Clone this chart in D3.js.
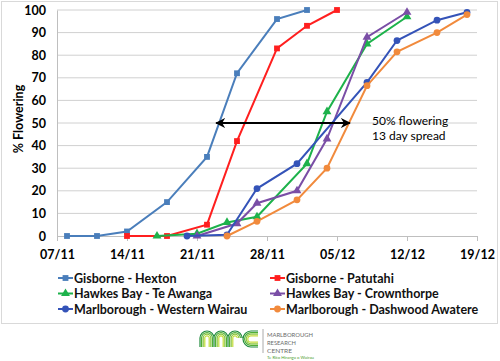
<!DOCTYPE html>
<html>
<head>
<meta charset="utf-8">
<script src="https://cdn.jsdelivr.net/npm/d3@7"></script>
<style>
  body { margin: 0; background: #fff; }
  svg { display: block; font-family: Lato, "Open Sans", sans-serif; }
</style>
</head>
<body>
<script>
// ---- data (dates are dd/mm) ----
var seriesNames = ["Gisborne - Hexton", "Gisborne - Patutahi", "Hawkes Bay - Te Awanga",
                   "Hawkes Bay - Crownthorpe", "Marlborough - Western Wairau", "Marlborough - Dashwood Awatere"];

var hextonDates  = ["08/11", "11/11", "14/11", "18/11", "22/11", "25/11", "29/11", "02/12"];
var hextonValues = [0, 0, 2, 15, 35, 72, 96, 100];

var patutahiDates  = ["14/11", "18/11", "22/11", "25/11", "29/11", "02/12", "05/12"];
var patutahiValues = [0, 0, 5, 42, 83, 93, 100];

var teAwangaDates  = ["17/11", "21/11", "24/11", "27/11", "02/12", "04/12", "08/12", "12/12"];
var teAwangaValues = [0, 1, 6, 8.5, 32, 55, 85, 97];

var crownthorpeDates  = ["21/11", "25/11", "27/11", "01/12", "04/12", "08/12", "12/12"];
var crownthorpeValues = [0, 5.5, 14.5, 20, 43, 88, 99];

var wairauDates  = ["20/11", "24/11", "27/11", "01/12", "08/12", "11/12", "15/12", "18/12"];
var wairauValues = [0, 0.5, 21, 32, 68, 86.5, 95.5, 99];

var awatereDates  = ["24/11", "27/11", "01/12", "04/12", "08/12", "11/12", "15/12", "18/12"];
var awatereValues = [0, 6.5, 16, 30, 66.5, 81.5, 90, 98];

var xTickDates = ["07/11", "14/11", "21/11", "28/11", "05/12", "12/12", "19/12"];
var yTicks = [0, 10, 20, 30, 40, 50, 60, 70, 80, 90, 100];

// 50% flowering spread arrow
var arrowFrom = "22/11 22:00", arrowTo = "06/12 07:00", arrowLevel = 50;
var noteLines = ["50% flowering", "13 day spread"];

// ---- setup ----
var year = "2015";
var parseDay = d3.timeParse("%d/%m/%Y");
var parseDayTime = d3.timeParse("%d/%m/%Y %H:%M");
function day(s) { return parseDay(s + "/" + year); }
function dayTime(s) { var p = s.split(" "); return parseDayTime(p[0] + "/" + year + " " + p[1]); }

var colors  = ["#4a7ebb", "#ff1f1f", "#1db24b", "#7a4ea6", "#3453b8", "#f18a3c"];
var symbols = [d3.symbolSquare, d3.symbolSquare, d3.symbolTriangle, d3.symbolTriangle, d3.symbolCircle, d3.symbolCircle];
var symSizes = [34, 34, 34, 34, 36, 36];

var allDates = [hextonDates, patutahiDates, teAwangaDates, crownthorpeDates, wairauDates, awatereDates];
var allValues = [hextonValues, patutahiValues, teAwangaValues, crownthorpeValues, wairauValues, awatereValues];

var series = seriesNames.map(function (name, i) {
  return {
    name: name,
    points: allDates[i].map(function (d, j) { return { date: day(d), value: allValues[i][j] }; })
  };
});

var width = 500, height = 361;
var plot = { left: 57, right: 477, top: 10, bottom: 236 };

var svg = d3.select("body").append("svg")
  .attr("width", width)
  .attr("height", height);

// chart border
svg.append("rect")
  .attr("x", 1.5).attr("y", 1.5)
  .attr("width", 496).attr("height", 322)
  .attr("fill", "none")
  .attr("stroke", "#d9d9d9");

var x = d3.scaleTime()
  .domain([day(xTickDates[0]), day(xTickDates[xTickDates.length - 1])])
  .range([plot.left, plot.right]);

var y = d3.scaleLinear()
  .domain([0, 100])
  .range([plot.bottom, plot.top]);

// gridlines
svg.append("g")
  .selectAll("line")
  .data(yTicks.slice(1))
  .enter().append("line")
  .attr("x1", plot.left).attr("x2", plot.right)
  .attr("y1", function (d) { return y(d); })
  .attr("y2", function (d) { return y(d); })
  .attr("stroke", "#d0d0d0")
  .attr("stroke-width", 1);

// y axis
var yAxis = svg.append("g")
  .attr("transform", "translate(" + plot.left + ",0)")
  .call(d3.axisLeft(y).tickValues(yTicks).tickSize(0).tickPadding(11));
yAxis.select(".domain").attr("stroke", "#bfbfbf");
yAxis.selectAll("text")
  .attr("font-family", "Lato, sans-serif")
  .attr("font-size", "12.5px")
  .attr("font-weight", "bold")
  .attr("fill", "#000");

// x axis
var xAxis = svg.append("g")
  .attr("transform", "translate(0," + plot.bottom + ")")
  .call(d3.axisBottom(x)
    .tickValues(xTickDates.map(day))
    .tickFormat(d3.timeFormat("%d/%m"))
    .tickSize(5)
    .tickPadding(6));
xAxis.select(".domain").attr("stroke", "#bfbfbf");
xAxis.selectAll(".tick line").attr("stroke", "#bfbfbf");
xAxis.selectAll("text")
  .attr("font-family", "Lato, sans-serif")
  .attr("font-size", "12.5px")
  .attr("font-weight", "bold")
  .attr("fill", "#000")
  .attr("dy", "0.95em");

// y title
svg.append("text")
  .attr("transform", "translate(23," + ((plot.top + plot.bottom) / 2 - 4) + ") rotate(-90)")
  .attr("text-anchor", "middle")
  .attr("font-size", "12.5px")
  .attr("font-weight", "bold")
  .text("% Flowering");

// lines and markers
var line = d3.line()
  .x(function (d) { return x(d.date); })
  .y(function (d) { return y(d.value); });

var g = svg.selectAll(".series")
  .data(series)
  .enter().append("g")
  .attr("class", "series");

g.append("path")
  .attr("d", function (d) { return line(d.points); })
  .attr("fill", "none")
  .attr("stroke", function (d, i) { return colors[i]; })
  .attr("stroke-width", 2);

g.each(function (s, i) {
  d3.select(this).selectAll("path.pt")
    .data(s.points)
    .enter().append("path")
    .attr("class", "pt")
    .attr("transform", function (d) { return "translate(" + x(d.date) + "," + y(d.value) + ")"; })
    .attr("d", d3.symbol().type(symbols[i]).size(symSizes[i]))
    .attr("fill", colors[i]);
});

// arrow annotation
var defs = svg.append("defs");
defs.append("marker")
  .attr("id", "arrowhead")
  .attr("viewBox", "0 0 10 10")
  .attr("refX", 9).attr("refY", 5)
  .attr("markerWidth", 5).attr("markerHeight", 5)
  .attr("orient", "auto-start-reverse")
  .append("path")
  .attr("d", "M0,0 L10,5 L0,10 L3,5 Z")
  .attr("fill", "#000");

svg.append("line")
  .attr("x1", x(dayTime(arrowFrom))).attr("x2", x(dayTime(arrowTo)))
  .attr("y1", y(arrowLevel)).attr("y2", y(arrowLevel))
  .attr("stroke", "#000")
  .attr("stroke-width", 2)
  .attr("marker-start", "url(#arrowhead)")
  .attr("marker-end", "url(#arrowhead)");

svg.append("g")
  .selectAll("text")
  .data(noteLines)
  .enter().append("text")
  .attr("x", 372)
  .attr("y", function (d, i) { return 125 + i * 14.5; })
  .attr("font-size", "12px")
  .attr("fill", "#000")
  .text(function (d) { return d; });

// legend
var legend = svg.append("g")
  .selectAll("g")
  .data(series)
  .enter().append("g")
  .attr("transform", function (d, i) {
    return "translate(" + (i % 2 === 0 ? 58 : 270) + "," + (278 + Math.floor(i / 2) * 15.5) + ")";
  });

legend.append("line")
  .attr("x1", 0).attr("x2", 15)
  .attr("stroke", function (d, i) { return colors[i]; })
  .attr("stroke-width", 2);

legend.append("path")
  .attr("transform", "translate(7.5,0)")
  .attr("d", function (d, i) { return d3.symbol().type(symbols[i]).size(symSizes[i])(); })
  .attr("fill", function (d, i) { return colors[i]; });

legend.append("text")
  .attr("x", 16)
  .attr("dy", "0.36em")
  .attr("font-size", "12.5px")
  .attr("font-weight", "bold")
  .attr("fill", "#111")
  .text(function (d) { return d.name; });

// logo
var logo = svg.append("g").attr("transform", "translate(200,331)");
var stripeColors = ["#1f8a3b", "#4fae35", "#8cc63f", "#c3dc3b"];
stripeColors.forEach(function (c, k) {
  var o = k * 1.6, r = 7 - o;
  var p = d3.path();
  // m
  p.moveTo(7 - r, 16); p.lineTo(7 - r, 7); p.arc(7, 7, r, Math.PI, 0); p.lineTo(7 + r, 16);
  p.moveTo(21 - r, 16); p.lineTo(21 - r, 7); p.arc(21, 7, r, Math.PI, 0); p.lineTo(21 + r, 16);
  // r
  p.moveTo(35 - r, 16); p.lineTo(35 - r, 7); p.arc(35, 7, r, Math.PI, 0);
  // c
  var rc = 8 - o;
  p.moveTo(58, 8 - rc); p.lineTo(51, 8 - rc); p.arc(51, 8, rc, -Math.PI / 2, Math.PI / 2, true); p.lineTo(58, 8 + rc);
  logo.append("path")
    .attr("d", p.toString())
    .attr("fill", "none")
    .attr("stroke", c)
    .attr("stroke-width", 1.2);
});

svg.append("line")
  .attr("x1", 263).attr("x2", 263)
  .attr("y1", 329).attr("y2", 353)
  .attr("stroke", "#aaa");

var logoText = [["MARLBOROUGH", 337, 46], ["RESEARCH", 345, 29], ["CENTRE", 353, 25]];
svg.append("g")
  .selectAll("text")
  .data(logoText)
  .enter().append("text")
  .attr("x", 267)
  .attr("y", function (d) { return d[1]; })
  .attr("font-size", "6.5px")
  .attr("fill", "#6b6b6b")
  .attr("textLength", function (d) { return d[2]; })
  .attr("lengthAdjust", "spacingAndGlyphs")
  .text(function (d) { return d[0]; });

svg.append("text")
  .attr("x", 267).attr("y", 359)
  .attr("font-size", "4px")
  .attr("fill", "#4f9d2d")
  .attr("textLength", 47)
  .attr("lengthAdjust", "spacingAndGlyphs")
  .text("Te Rito Hiranga o Wairau");
</script>
</body>
</html>
